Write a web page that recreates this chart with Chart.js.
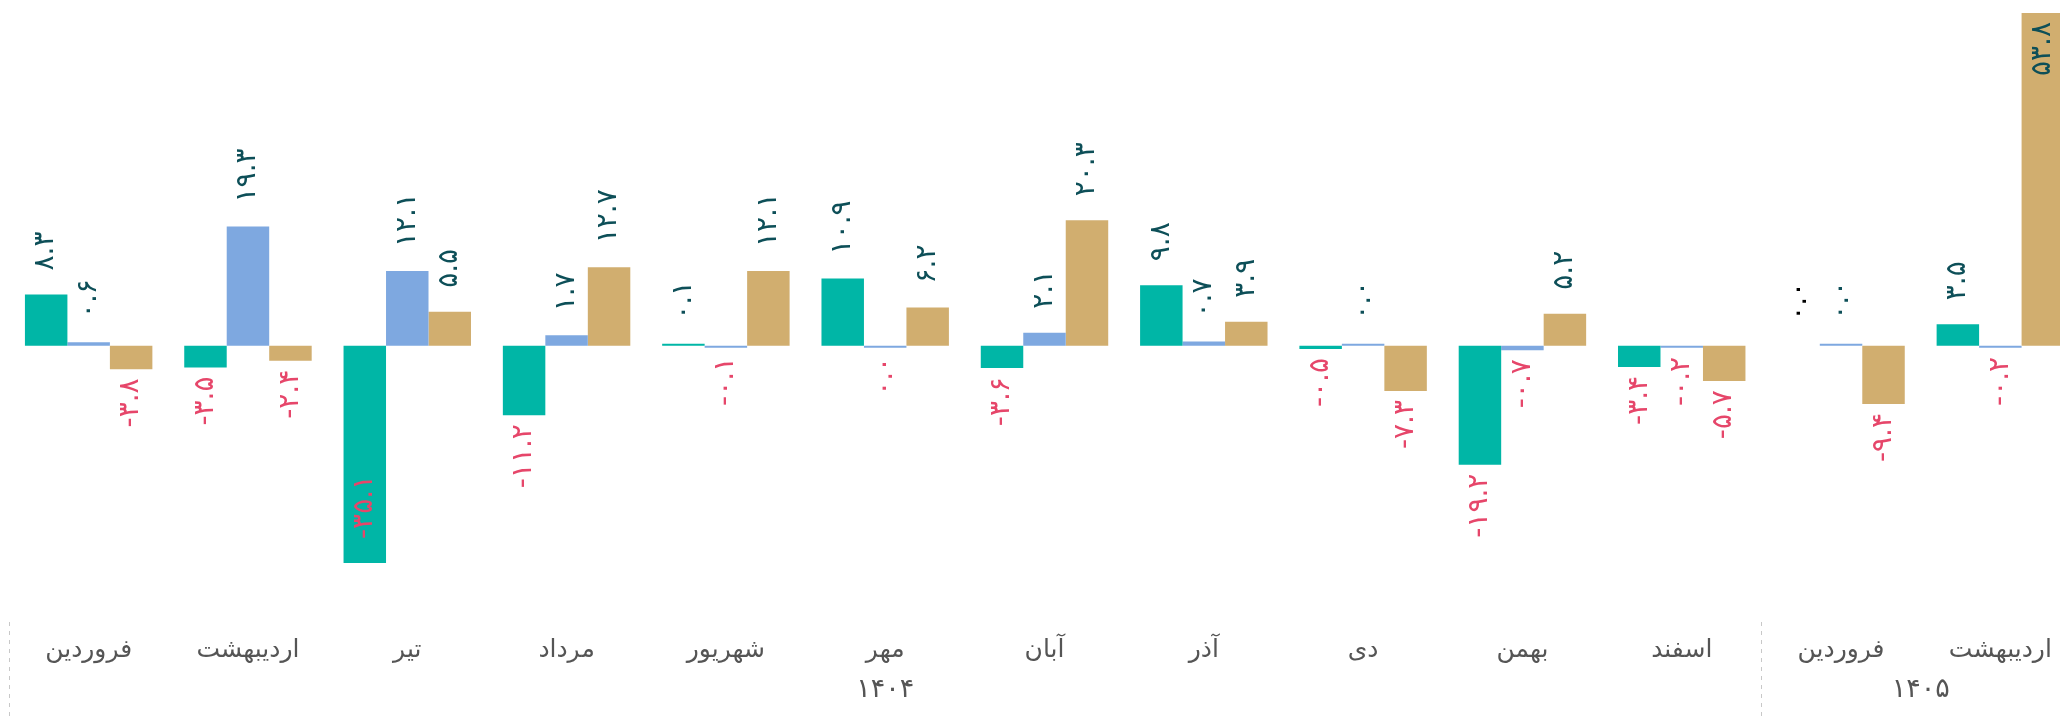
<!DOCTYPE html>
<html lang="fa">
<head>
<meta charset="utf-8">
<title>chart</title>
<script src="https://cdn.jsdelivr.net/npm/chart.js@4.4.1/dist/chart.umd.min.js"></script>
<style>
    html, body { margin: 0; padding: 0; background: #fff; overflow: hidden; }
    #wrap { width: 2090px; height: 720px; position: relative; }
</style>
</head>
<body>
<div id="wrap"><canvas id="chart1"></canvas></div>
<script>

const months = [
    'فروردین',
    'اردیبهشت',
    'تیر',
    'مرداد',
    'شهریور',
    'مهر',
    'آبان',
    'آذر',
    'دی',
    'بهمن',
    'اسفند',
    'فروردین',
    'اردیبهشت'
]

// year label and how many months fall under it
const years = ['1404', '1405']
const yearSpans = [11, 2]

const series1 = [8.3, -3.5, -35.1, -11.2, 0.1, 10.9, -3.6, 9.8, -0.5, -19.2, -3.4, 0, 3.5]
const series2 = [0.6, 19.3, 12.1, 1.7, -0.1, -0.04, 2.1, 0.7, 0.04, -0.7, -0.2, 0.04, -0.2]
const series3 = [-3.8, -2.4, 5.5, 12.7, 12.1, 6.2, 20.3, 3.9, -7.3, 5.2, -5.7, -9.4, 53.8]

const FONT = '"DejaVu Sans", "Noto Sans", sans-serif'

function toFa(str){
    const fa = '۰۱۲۳۴۵۶۷۸۹'
    return String(str).replace(/[0-9]/g, d => fa[+d])
}

function fmt(v){
    return toFa((Math.round(v * 10) / 10).toFixed(1))
}

// rotated value labels above / below each bar
const valueLabels = {
    id: 'valueLabels',
    afterDatasetsDraw(chart){
        const ctx = chart.ctx
        const area = chart.chartArea
        ctx.save()
        ctx.font = '28px ' + FONT
        ctx.textBaseline = 'middle'
        chart.data.datasets.forEach((ds, di) => {
            const meta = chart.getDatasetMeta(di)
            meta.data.forEach((bar, i) => {
                const v = ds.data[i]
                if (v === null || v === undefined) return
                const txt = fmt(v)
                const w = ctx.measureText(txt).width
                const top = Math.min(bar.y, bar.base)
                const bottom = Math.max(bar.y, bar.base)
                let y, align
                if (v >= 0){
                    y = top - 24
                    align = 'left'
                    if (y - w < area.top){ y = top + 9; align = 'right' }
                } else {
                    y = bottom + 9
                    align = 'right'
                    if (y + w > area.bottom){ y = bottom - 24; align = 'left' }
                }
                ctx.fillStyle = v > 0 ? '#0d4f58' : (v < 0 ? '#e6466a' : '#000000')
                ctx.save()
                ctx.translate(bar.x, y)
                ctx.rotate(-Math.PI / 2)
                ctx.textAlign = align
                ctx.fillText(txt, 0, 0)
                ctx.restore()
            })
        })
        ctx.restore()
    }
}

// year row and dashed separators under the month labels
const yearRow = {
    id: 'yearRow',
    afterDraw(chart){
        const ctx = chart.ctx
        const x = chart.scales.x
        const step = x.getPixelForValue(1) - x.getPixelForValue(0)
        ctx.save()
        ctx.strokeStyle = '#c8c8c8'
        ctx.lineWidth = 1
        ctx.setLineDash([4, 5])
        ctx.fillStyle = '#555'
        ctx.font = '27px ' + FONT
        ctx.textAlign = 'center'
        ctx.textBaseline = 'middle'
        let start = 0
        years.forEach((yr, k) => {
            const end = start + yearSpans[k] - 1
            const left = x.getPixelForValue(start) - step / 2
            const right = x.getPixelForValue(end) + step / 2
            ctx.beginPath()
            ctx.moveTo(Math.round(left) + 0.5, 622)
            ctx.lineTo(Math.round(left) + 0.5, 720)
            ctx.stroke()
            ctx.fillText(toFa(yr), (left + right) / 2, 690)
            start = end + 1
        })
        ctx.restore()
    }
}

function loadChart1(){

    const ctx1 = document.getElementById('chart1').getContext('2d')
    const all = series1.concat(series2, series3)

    const data = {
        labels: months,
        datasets: [
            {
                data: series1,
                backgroundColor: c => c.raw === 0 ? 'rgba(0,0,0,0)' : '#00b6a6',
                minBarLength: 2
            },
            {
                data: series2,
                backgroundColor: '#7ea8e0',
                minBarLength: 2
            },
            {
                data: series3,
                backgroundColor: '#d1ae6f',
                minBarLength: 2
            }
        ]
    }

    const config = {
        type: 'bar',
        data: data,
        options: {
            responsive: true,
            maintainAspectRatio: false,
            animation: false,
            layout: { padding: { left: 9, right: 10, top: 13, bottom: 0 } },
            plugins: {
                legend: { display: false },
                tooltip: { enabled: false }
            },
            datasets: {
                bar: { categoryPercentage: 0.8, barPercentage: 1 }
            },
            scales: {
                x: {
                    grid: { display: false },
                    border: { display: false },
                    ticks: {
                        color: '#555',
                        font: { size: 25, family: FONT },
                        padding: 64,
                        maxRotation: 0,
                        autoSkip: false
                    },
                    afterFit: s => {
                        s.height = 157
                        s.paddingLeft = 0
                        s.paddingRight = 0
                    }
                },
                y: {
                    display: false,
                    min: Math.min(...all),
                    max: Math.max(...all)
                }
            }
        },
        plugins: [valueLabels, yearRow]
    }

    const chart1 = new Chart(ctx1, config)
}

loadChart1()
</script>
</body>
</html>
